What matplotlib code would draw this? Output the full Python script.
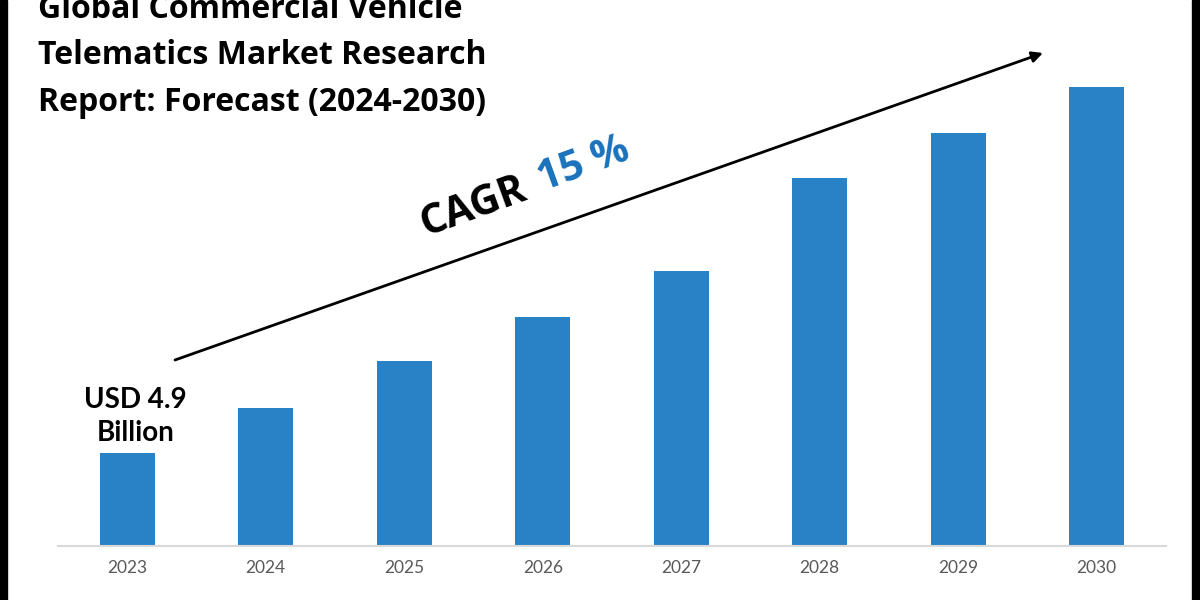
import matplotlib.pyplot as plt
from matplotlib.patches import Rectangle

# Chart data.
years = ["2023", "2024", "2025", "2026", "2027", "2028", "2029", "2030"]
market_size = [4.9, 7.3, 9.75, 12.1, 14.5, 19.4, 21.8, 24.2]
title_lines = ["Global Commercial Vehicle",
               "Telematics Market Research",
               "Report: Forecast (2024-2030)"]
first_label = "USD 4.9\nBillion"
cagr_word = "CAGR"
cagr_value = "15 %"

plt.rcParams["font.family"] = ["Lato", "DejaVu Sans"]

fig = plt.figure(figsize=(12, 6), dpi=100)
ax = fig.add_axes([58 / 1200, 54 / 600, 1108 / 1200, 493 / 600])

x = range(len(years))
ax.bar(x, market_size, width=0.4, color="#2882c5")
ax.set_xlim(-0.5, len(years) - 0.5)
ax.set_ylim(0, 26)
ax.set_xticks(list(x))
ax.set_xticklabels(years, fontsize=12.5, color="#595959")
ax.tick_params(axis="x", length=0, pad=10)
ax.set_yticks([])
for side in ["top", "left", "right"]:
    ax.spines[side].set_visible(False)
ax.spines["bottom"].set_color("#d9d9d9")
ax.spines["bottom"].set_linewidth(1.5)

# Value label over the first bar.
ax.annotate(first_label, (0, market_size[0]), xytext=(6, 5),
            textcoords="offset points", ha="center", va="bottom",
            fontsize=20, fontweight="bold", linespacing=1.35)

# Title, top-left.
for i, line in enumerate(title_lines):
    fig.text(38 / 1200, 1 - (18 + 46.5 * i) / 600, line, ha="left",
             va="baseline", fontsize=23, fontweight="bold",
             family=["Open Sans", "DejaVu Sans"])

# Growth arrow.
ax.annotate("", xy=(1043, 547), xytext=(175, 240),
            xycoords="figure pixels", textcoords="figure pixels",
            arrowprops=dict(arrowstyle="-|>", color="black", lw=2,
                            mutation_scale=16, shrinkA=0, shrinkB=0))

# CAGR text along the arrow.
fig.text(426 / 1200, 1 - 236 / 600, cagr_word, rotation=20,
         rotation_mode="anchor", ha="left", va="baseline",
         fontsize=29.5, fontweight="bold",
         family=["Open Sans", "DejaVu Sans"])
fig.text(543 / 1200, 1 - 191 / 600, cagr_value, rotation=20,
         rotation_mode="anchor", ha="left", va="baseline",
         fontsize=29.5, fontweight="bold", color="#1a72bb",
         family=["Open Sans", "DejaVu Sans"])

# Black side borders.
fig.patches.append(Rectangle((0, 0), 7 / 1200, 1, transform=fig.transFigure,
                             color="black", zorder=10))
fig.patches.append(Rectangle((1192 / 1200, 0), 8 / 1200, 1,
                             transform=fig.transFigure, color="black",
                             zorder=10))

fig.savefig("out.png", dpi=100)
